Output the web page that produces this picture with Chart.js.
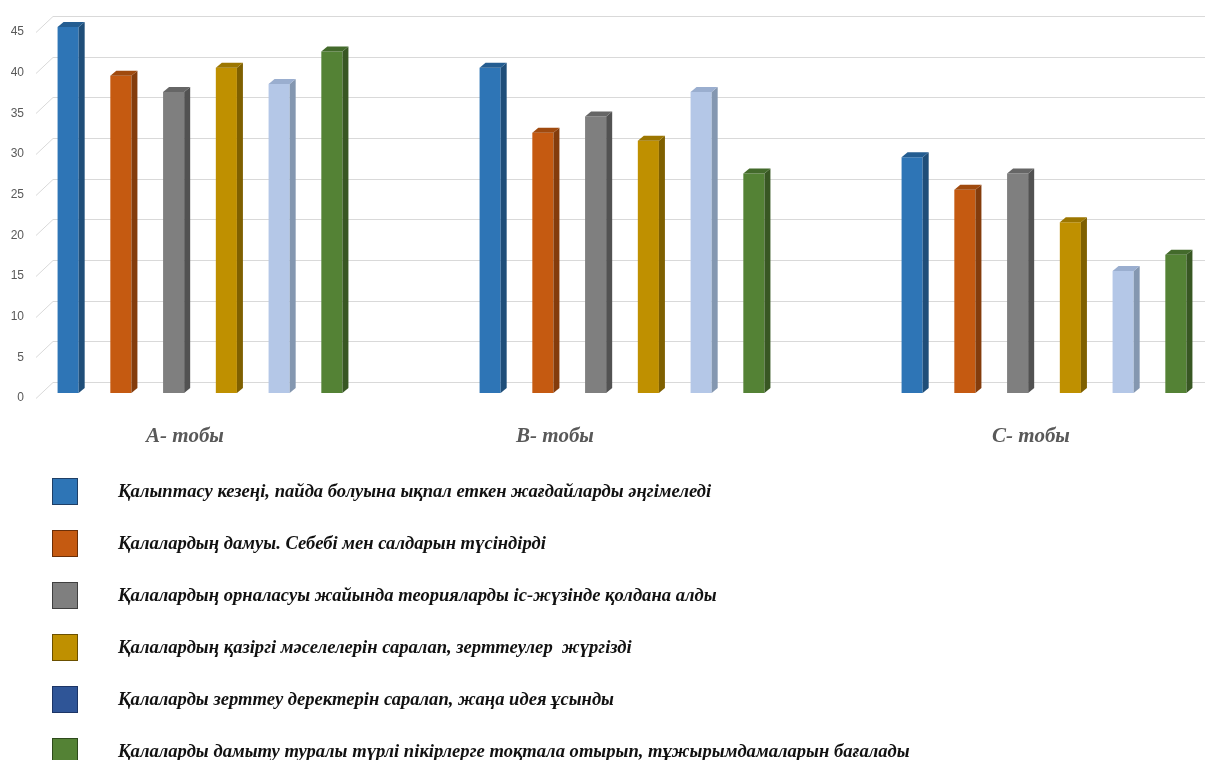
<!DOCTYPE html>
<html>
<head>
<meta charset="utf-8">
<script src="https://cdn.jsdelivr.net/npm/chart.js@4.4.1/dist/chart.umd.min.js"></script>
<style>
  html,body{margin:0;padding:0;background:#fff;width:1205px;height:760px;overflow:hidden;}
  #wrap{position:relative;width:1205px;height:760px;}
  canvas{position:absolute;left:0;top:0;}
  #legend{position:absolute;left:0;top:0;width:1205px;height:760px;pointer-events:none;}
  .item{position:absolute;left:52px;height:27px;}
  .sw{position:absolute;left:0;top:0;width:24px;height:25px;border:1px solid #333;}
  .tx{position:absolute;left:66px;top:0px;white-space:pre;font-family:"Liberation Serif","DejaVu Serif",serif;font-weight:bold;font-style:italic;font-size:18.6px;line-height:26px;color:#111;}
</style>
</head>
<body>
<div id="wrap">
  <canvas id="c" width="1205" height="460"></canvas>
  <div id="legend"></div>
</div>
<script>
// ---- data ----
const categories = ['A- тобы', 'B- тобы', 'C- тобы'];
const seriesNames = [
  'Қалыптасу кезеңі, пайда болуына ықпал еткен жағдайларды әңгімеледі',
  'Қалалардың дамуы. Себебі мен салдарын түсіндірді',
  'Қалалардың орналасуы жайында теорияларды іс-жүзінде қолдана алды',
  'Қалалардың қазіргі мәселелерін саралап, зерттеулер  жүргізді',
  'Қалаларды зерттеу деректерін саралап, жаңа идея ұсынды',
  'Қалаларды дамыту туралы түрлі пікірлерге тоқтала отырып, тұжырымдамаларын бағалады'
];
const series1 = [45, 40, 29];
const series2 = [39, 32, 25];
const series3 = [37, 34, 27];
const series4 = [40, 31, 21];
const series5 = [38, 37, 15];
const series6 = [42, 27, 17];
const yTickStep = 5;
const yMax = 45;

// ---- styles ----
const frontColors = ['#2E75B6', '#C55A11', '#7F7F7F', '#BF9000', '#B4C7E7', '#548235'];
const sideColors  = ['#1F4E79', '#843C0C', '#525252', '#7F6000', '#8497B0', '#385723'];
const topColors   = ['#245D91', '#A04A0E', '#666666', '#9C7600', '#9AAECF', '#436A2B'];
const legendColors = ['#2E75B6', '#C55A11', '#7F7F7F', '#BF9000', '#2F5597', '#548235'];
const legendBorders = ['#1F3F66', '#6B2F08', '#404040', '#6B5000', '#1C3566', '#2E4A1C'];

const allSeries = [series1, series2, series3, series4, series5, series6];

const DX = 6, DY = 5;
const labelShiftPx = [-15, -67, -13];

const depthPlugin = {
  id: 'depth',
  beforeDatasetsDraw(chart) {
    const ctx = chart.ctx, y = chart.scales.y;
    ctx.save();
    ctx.strokeStyle = '#D9D9D9';
    ctx.lineWidth = 1;
    y.ticks.forEach(t => {
      const py = Math.round(y.getPixelForValue(t.value)) + 0.5;
      ctx.beginPath();
      ctx.moveTo(36, py + 5);
      ctx.lineTo(53, py - 11);
      ctx.lineTo(1205, py - 11);
      ctx.stroke();
    });
    ctx.restore();
  },
  afterDatasetsDraw(chart) {
    const ctx = chart.ctx;
    ctx.save();
    chart.data.datasets.forEach((ds, di) => {
      const meta = chart.getDatasetMeta(di);
      meta.data.forEach(bar => {
        const p = bar.getProps(['x', 'y', 'base', 'width'], true);
        const l = p.x - p.width / 2, r = p.x + p.width / 2;
        ctx.fillStyle = sideColors[di];
        ctx.beginPath();
        ctx.moveTo(r, p.y);
        ctx.lineTo(r + DX, p.y - DY);
        ctx.lineTo(r + DX, p.base - DY);
        ctx.lineTo(r, p.base);
        ctx.closePath();
        ctx.fill();
        ctx.fillStyle = topColors[di];
        ctx.beginPath();
        ctx.moveTo(l, p.y);
        ctx.lineTo(l + DX, p.y - DY);
        ctx.lineTo(r + DX, p.y - DY);
        ctx.lineTo(r, p.y);
        ctx.closePath();
        ctx.fill();
      });
    });
    ctx.restore();
  }
};

const PX_PER_CAT = 422;
const FIRST_CENTER = 200;
const AREA_LEFT = 35, AREA_RIGHT = 1205;
const xMin = -(FIRST_CENTER - AREA_LEFT) / PX_PER_CAT;
const xMax = (categories.length - 1) + (AREA_RIGHT - (FIRST_CENTER + PX_PER_CAT * (categories.length - 1))) / PX_PER_CAT;

new Chart(document.getElementById('c'), {
  type: 'bar',
  data: {
    datasets: allSeries.map((s, i) => ({
      label: seriesNames[i],
      data: s.map((v, k) => ({ x: k, y: v })),
      backgroundColor: frontColors[i],
      borderWidth: 0,
      categoryPercentage: 0.75,
      barPercentage: 0.4
    }))
  },
  options: {
    responsive: false,
    animation: false,
    devicePixelRatio: 1,
    layout: { padding: { top: 27, right: 0, left: 0, bottom: 0 } },
    plugins: { legend: { display: false }, tooltip: { enabled: false } },
    scales: {
      x: {
        type: 'linear',
        display: false,
        offset: false,
        min: xMin,
        max: xMax,
        grid: { display: false, offset: false },
        afterBuildTicks: s => { s.ticks = categories.map((c, i) => ({ value: i })); }
      },
      x2: {
        type: 'linear',
        position: 'bottom',
        offset: false,
        min: xMin,
        max: xMax,
        grid: { display: false, drawTicks: false, offset: false },
        border: { display: false },
        afterFit: s => { s.height = 67; },
        afterBuildTicks: s => { s.ticks = categories.map((c, i) => ({ value: i + labelShiftPx[i] / PX_PER_CAT })); },
        ticks: {
          autoSkip: false,
          maxRotation: 0,
          padding: 31,
          color: '#595959',
          font: { family: 'Liberation Serif', size: 21, weight: 'bold', style: 'italic' },
          callback: (v, i) => categories[i]
        }
      },
      y: {
        min: 0,
        max: yMax,
        grid: { display: false, drawTicks: false },
        border: { display: false },
        afterFit: s => { s.width = AREA_LEFT; },
        ticks: {
          stepSize: yTickStep,
          padding: 11,
          labelOffset: 5,
          color: '#595959',
          font: { family: 'Liberation Sans', size: 12 }
        }
      }
    }
  },
  plugins: [depthPlugin]
});

// ---- HTML legend ----
const lg = document.getElementById('legend');
seriesNames.forEach((name, i) => {
  const it = document.createElement('div');
  it.className = 'item';
  it.style.top = (478 + i * 52) + 'px';
  const sw = document.createElement('div');
  sw.className = 'sw';
  sw.style.background = legendColors[i];
  sw.style.borderColor = legendBorders[i];
  const tx = document.createElement('div');
  tx.className = 'tx';
  tx.textContent = name;
  it.appendChild(sw);
  it.appendChild(tx);
  lg.appendChild(it);
});
</script>
</body>
</html>
